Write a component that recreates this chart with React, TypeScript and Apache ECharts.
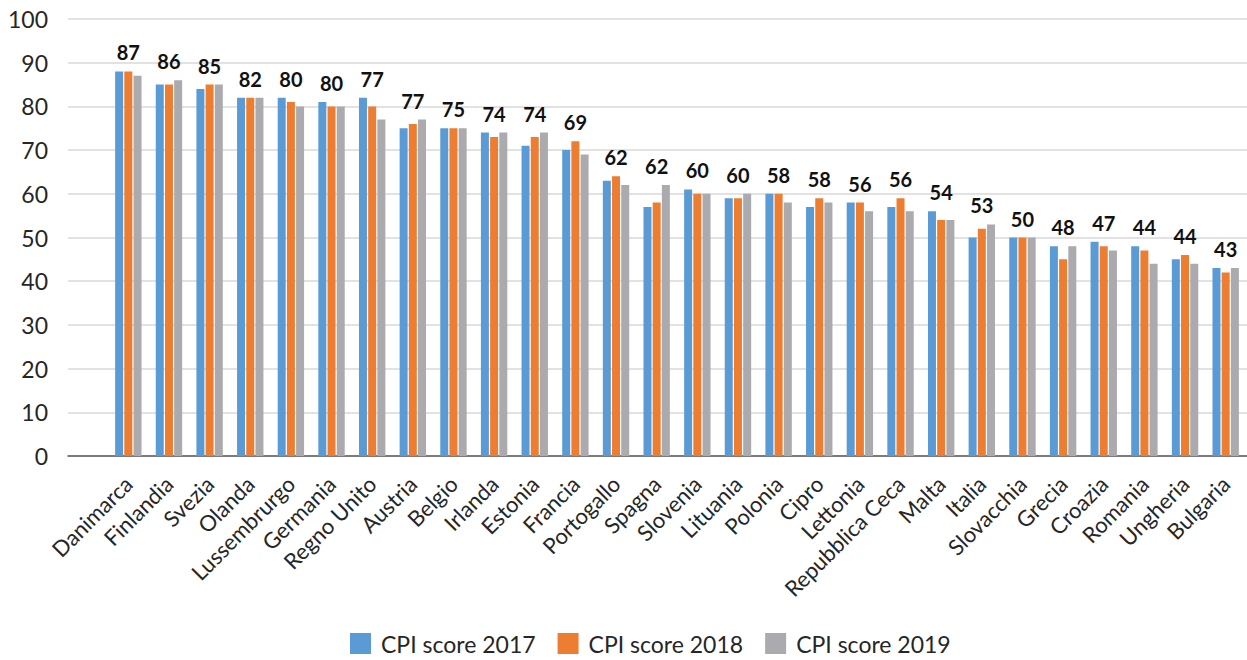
import React, { useEffect, useRef } from "react";
import * as echarts from "echarts";

const categories = [
  "Danimarca", "Finlandia", "Svezia", "Olanda", "Lussembrurgo", "Germania", "Regno Unito",
  "Austria", "Belgio", "Irlanda", "Estonia", "Francia", "Portogallo", "Spagna", "Slovenia",
  "Lituania", "Polonia", "Cipro", "Lettonia", "Repubblica Ceca", "Malta", "Italia",
  "Slovacchia", "Grecia", "Croazia", "Romania", "Ungheria", "Bulgaria",
];
const score2017 = [88, 85, 84, 82, 82, 81, 82, 75, 75, 74, 71, 70, 63, 57, 61, 59, 60, 57, 58, 57, 56, 50, 50, 48, 49, 48, 45, 43];
const score2018 = [88, 85, 85, 82, 81, 80, 80, 76, 75, 73, 73, 72, 64, 58, 60, 59, 60, 59, 58, 59, 54, 52, 50, 45, 48, 47, 46, 42];
const score2019 = [87, 86, 85, 82, 80, 80, 77, 77, 75, 74, 74, 69, 62, 62, 60, 60, 58, 58, 56, 56, 54, 53, 50, 48, 47, 44, 44, 43];
const yTicks = [0, 10, 20, 30, 40, 50, 60, 70, 80, 90, 100];
const seriesNames = ["CPI score 2017", "CPI score 2018", "CPI score 2019"];

const FONT = "Lato, 'Noto Sans', sans-serif";
const PX_PER_UNIT = 437 / 100;

export default function App() {
  const ref = useRef<HTMLDivElement>(null);
  useEffect(() => {
    document.body.style.margin = "0";
    const chart = echarts.init(ref.current!, null, { renderer: "svg" });
    const orangeData = score2018.map((v, i) => {
      const mx = Math.max(score2017[i], v, score2019[i]);
      return { value: v, label: { distance: (mx - v) * PX_PER_UNIT + 9 } };
    });
    const barCommon = { barWidth: 8, barGap: "15%", xAxisIndex: 1, yAxisIndex: 1 };
    chart.setOption({
      animation: false,
      textStyle: { fontFamily: FONT },
      grid: [
        { left: 68, right: 0, top: 19, bottom: 204 },
        { left: 108, right: 1, top: 19, bottom: 204 },
      ],
      legend: {
        data: seriesNames,
        bottom: 0,
        left: 345,
        icon: "rect",
        itemWidth: 21,
        itemHeight: 21,
        itemGap: 22,
        textStyle: { fontSize: 23, color: "#262626", fontFamily: FONT, padding: [0, 0, 0, 5] },
      },
      xAxis: [
        {
          gridIndex: 0, type: "value", min: 0, max: 1,
          axisLine: { show: true, onZero: false, lineStyle: { color: "#595959", width: 1.5 } },
          axisTick: { show: false }, axisLabel: { show: false }, splitLine: { show: false },
        },
        {
          gridIndex: 1, type: "category", data: categories,
          axisLine: { show: false }, axisTick: { show: false },
          axisLabel: { rotate: 45, interval: 0, margin: 24, fontSize: 22, color: "#262626", fontFamily: FONT },
        },
      ],
      yAxis: [
        {
          gridIndex: 0, type: "value", min: yTicks[0], max: yTicks[yTicks.length - 1], interval: 10,
          axisLine: { show: false }, axisTick: { show: false },
          axisLabel: { fontSize: 23, color: "#262626", margin: 20, fontFamily: FONT },
          splitLine: { lineStyle: { color: "#D9D9D9", width: 1.5 } },
        },
        {
          gridIndex: 1, type: "value", min: 0, max: 100, show: false,
          splitLine: { show: false },
        },
      ],
      series: [
        { ...barCommon, type: "bar", name: seriesNames[0], data: score2017, itemStyle: { color: "#5B9BD5" } },
        {
          ...barCommon, type: "bar", name: seriesNames[1], data: orangeData, itemStyle: { color: "#ED7D31" },
          label: {
            show: true, position: "top", fontSize: 20, fontWeight: "bold", color: "#111",
            fontFamily: FONT,
            formatter: (p: any) => String(score2019[p.dataIndex]),
          },
        },
        { ...barCommon, type: "bar", name: seriesNames[2], data: score2019, itemStyle: { color: "#ABABAF" } },
      ],
    });
    return () => chart.dispose();
  }, []);
  return <div ref={ref} style={{ width: 1247, height: 660 }} />;
}
